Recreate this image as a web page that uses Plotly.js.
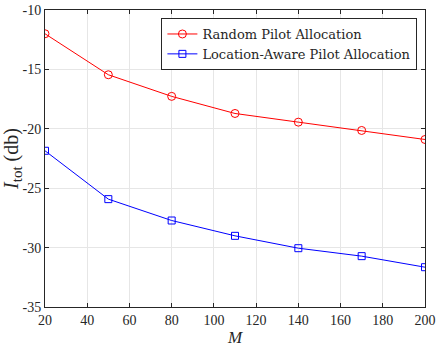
<!DOCTYPE html>
<html>
<head>
<meta charset="utf-8">
<script src="https://cdn.plot.ly/plotly-3.0.1.min.js"></script>
<style>
  html, body { margin:0; padding:0; background:#fff; }
  #chart { width:439px; height:348px; }
</style>
</head>
<body>
<div id="chart"></div>
<script>
const M = [20, 50, 80, 110, 140, 170, 200];
const randomAlloc = [-12.0, -15.45, -17.27, -18.71, -19.44, -20.14, -20.9];
const locationAware = [-21.85, -25.92, -27.72, -29.01, -30.05, -30.72, -31.65];
const xTicks = [20, 40, 60, 80, 100, 120, 140, 160, 180, 200];
const yTicks = [-35, -30, -25, -20, -15, -10];

const serif = "Liberation Serif, Times New Roman, serif";
const wideSerif = "DejaVu Serif, serif";
const axisCol = "#262626";

const traces = [
  {
    type:"scatter", mode:"lines+markers", x:M, y:randomAlloc,
    name:"Random Pilot Allocation",
    line:{color:"#ff0000", width:1},
    marker:{symbol:"circle-open", size:8, color:"#ff0000", line:{width:1}}
  },
  {
    type:"scatter", mode:"lines+markers", x:M, y:locationAware,
    name:"Location-Aware Pilot Allocation",
    line:{color:"#0000ff", width:1},
    marker:{symbol:"square-open", size:7, color:"#0000ff", line:{width:1}}
  }
];

const axisBase = {
  showline:true, linecolor:axisCol, linewidth:1, mirror:"ticks",
  ticks:"inside", ticklen:4, tickcolor:axisCol, tickwidth:1,
  showgrid:true, gridcolor:"#e6e6e6", gridwidth:1, zeroline:false,
  tickfont:{family:serif, size:14, color:"#262626"}
};

const layout = {
  width:439, height:348,
  paper_bgcolor:"#fff", plot_bgcolor:"#fff",
  margin:{l:45, r:14, t:10, b:41},
  showlegend:true,
  xaxis:{...axisBase, range:[20,200], tickvals:xTicks,
    title:{text:"<i>M</i>", font:{family:serif, size:17, color:"#262626"}, standoff:4}},
  yaxis:{...axisBase, range:[-35,-10], tickvals:yTicks, ticktext:yTicks.map(String),
    title:{text:"<i>I</i><sub><span style='font-size:15px'>tot</span></sub> (db)",
      font:{family:serif, size:20, color:"#262626"}, standoff:1}},
  legend:{x:0.98, y:0.973, xanchor:"right", yanchor:"top",
    bgcolor:"#fff", bordercolor:axisCol, borderwidth:1,
    font:{family:wideSerif, size:13, color:"#262626"},
    tracegroupgap:0, itemwidth:30}
};

Plotly.newPlot("chart", traces, layout, {displayModeBar:false, staticPlot:true});
</script>
</body>
</html>
